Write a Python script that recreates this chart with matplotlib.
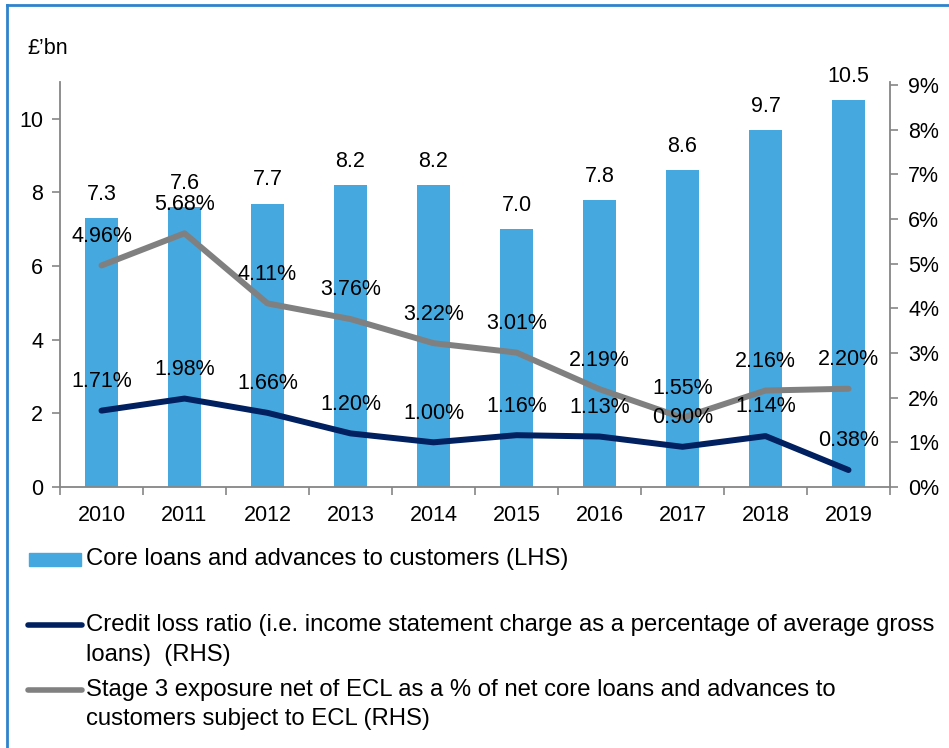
import matplotlib.pyplot as plt
from matplotlib.lines import Line2D
from matplotlib.patches import Rectangle
from matplotlib.ticker import FuncFormatter

plt.rcParams['font.family'] = ['Liberation Sans', 'DejaVu Sans']

# data
years = ['2010', '2011', '2012', '2013', '2014', '2015', '2016', '2017', '2018', '2019']
core_loans = [7.3, 7.6, 7.7, 8.2, 8.2, 7.0, 7.8, 8.6, 9.7, 10.5]
credit_loss = [1.71, 1.98, 1.66, 1.20, 1.00, 1.16, 1.13, 0.90, 1.14, 0.38]
stage3 = [4.96, 5.68, 4.11, 3.76, 3.22, 3.01, 2.19, 1.55, 2.16, 2.20]

bar_col = '#45a8df'
navy = '#002060'
grey = '#808080'
axis_col = '#868686'

W, H = 949, 748
fig = plt.figure(figsize=(W / 100, H / 100), dpi=100)

def fx(px):
    return px / W

def fy(py):
    return 1 - py / H

ax = fig.add_axes([fx(60), fy(487), fx(890) - fx(60), fy(82) - fy(487)])
ax2 = ax.twinx()

fs = 15.5

x = list(range(len(years)))
ax.bar(x, core_loans, width=0.4, color=bar_col, zorder=1)
for xi, v in zip(x, core_loans):
    ax.annotate('%.1f' % v, (xi, v), xytext=(0, 17), textcoords='offset points',
                ha='center', va='center', fontsize=fs)

ax2.plot(x, credit_loss, color=navy, lw=4.3, solid_capstyle='round', solid_joinstyle='round')
ax2.plot(x, stage3, color=grey, lw=4.3, solid_capstyle='round', solid_joinstyle='round')
for xi, v in zip(x, credit_loss):
    ax2.annotate('%.2f%%' % v, (xi, v), xytext=(0, 21), textcoords='offset points',
                 ha='center', va='center', fontsize=fs)
for xi, v in zip(x, stage3):
    ax2.annotate('%.2f%%' % v, (xi, v), xytext=(0, 21), textcoords='offset points',
                 ha='center', va='center', fontsize=fs)

ax.set_xlim(-0.5, len(years) - 0.5)
ax.set_ylim(0, 11)
ax.set_yticks([0, 2, 4, 6, 8, 10])
ax2.set_ylim(0, 9 * 405 / 402)
ax2.set_yticks(range(0, 10))
ax2.yaxis.set_major_formatter(FuncFormatter(lambda v, p: '%d%%' % v))

ax.set_xticks(x)
ax.set_xticklabels(years)
ax.set_xticks([i - 0.5 for i in range(len(years) + 1)], minor=True)
ax.tick_params(axis='x', which='major', length=0, labelsize=fs, pad=13)
ax.tick_params(axis='x', which='minor', length=6, color=axis_col, width=1.2, direction='out')
ax.tick_params(axis='y', length=6, color=axis_col, width=1.2, labelsize=fs, pad=6)
ax2.tick_params(axis='y', length=6, color=axis_col, width=1.2, labelsize=fs, pad=7)

for a in (ax, ax2):
    a.spines['top'].set_visible(False)
    for s in ('left', 'right', 'bottom'):
        a.spines[s].set_color(axis_col)
        a.spines[s].set_linewidth(1.3)
ax.spines['right'].set_visible(False)
ax2.spines['left'].set_visible(False)
ax2.spines['bottom'].set_visible(False)

fig.text(fx(27), fy(48), '£\u2019bn', fontsize=fs, va='center', ha='left')

# legend drawn by hand
fig.add_artist(Rectangle((fx(29), fy(566)), fx(81) - fx(29), fy(553) - fy(566),
                         transform=fig.transFigure, color=bar_col))
fig.add_artist(Line2D([fx(28), fx(82)], [fy(625), fy(625)], transform=fig.transFigure,
                      color=navy, lw=4, solid_capstyle='round'))
fig.add_artist(Line2D([fx(28), fx(82)], [fy(690), fy(690)], transform=fig.transFigure,
                      color=grey, lw=4, solid_capstyle='round'))
leg_kw = dict(fontsize=17.2, ha='left', va='center')
fig.text(fx(86), fy(559), 'Core loans and advances to customers (LHS)', **leg_kw)
fig.text(fx(86), fy(625), 'Credit loss ratio (i.e. income statement charge as a percentage of average gross', **leg_kw)
fig.text(fx(86), fy(655), 'loans)  (RHS)', **leg_kw)
fig.text(fx(86), fy(690), 'Stage 3 exposure net of ECL as a % of net core loans and advances to', **leg_kw)
fig.text(fx(86), fy(719), 'customers subject to ECL (RHS)', **leg_kw)

# frame
fig.add_artist(Line2D([fx(7), 1], [fy(5), fy(5)], transform=fig.transFigure, color='#2f83cc', lw=2))
fig.add_artist(Line2D([fx(7), fx(7)], [fy(5), 0], transform=fig.transFigure, color='#2f83cc', lw=2))

fig.savefig('out.png', dpi=100)
